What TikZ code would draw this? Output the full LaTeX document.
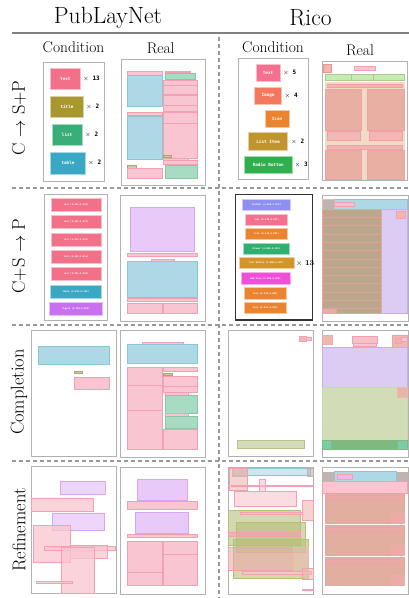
\documentclass[tikz,border=0pt]{standalone}
\usepackage{fontspec}
\newfontfamily\cmono{DejaVu Sans Mono}
\usetikzlibrary{calc}
\definecolor{pinkF}{HTML}{F9C5D0}\definecolor{pinkD}{HTML}{F4A0B3}
\definecolor{blueF}{HTML}{ADD8E6}\definecolor{blueD}{HTML}{88C6D8}
\definecolor{greenF}{HTML}{A8DCC2}\definecolor{greenD}{HTML}{86C8A6}
\definecolor{olivF}{HTML}{D6CA96}
\definecolor{purpF}{HTML}{E8C9F8}\definecolor{purpD}{HTML}{D6A6F0}
\definecolor{redF}{HTML}{E8AFA2}\definecolor{redD}{HTML}{F2A0A8}
\definecolor{beigeF}{HTML}{F0DCC6}
\definecolor{lavF}{HTML}{DCCCF4}\definecolor{lavD}{HTML}{C6AEE6}
\definecolor{rgreenF}{HTML}{D2DDB8}\definecolor{rgreenD}{HTML}{B4C68C}
\definecolor{brownF}{HTML}{BCA68C}
\definecolor{greyF}{HTML}{C0B4B0}
\definecolor{salF}{HTML}{EEB8AE}
\definecolor{olivR}{HTML}{B8BE78}
\definecolor{tealF}{HTML}{7CCCA6}\definecolor{tealD}{HTML}{7EBA80}
\definecolor{cText}{HTML}{F27088}\definecolor{cTitle}{HTML}{A8962E}
\definecolor{cList}{HTML}{3AAE78}\definecolor{cTable}{HTML}{3AA8C4}
\definecolor{cFig}{HTML}{C870F0}
\definecolor{rText}{HTML}{F57090}\definecolor{rImage}{HTML}{F4785E}
\definecolor{rIcon}{HTML}{EA8430}\definecolor{rList}{HTML}{C0952E}
\definecolor{rRadio}{HTML}{30B04C}\definecolor{rTool}{HTML}{8F8FF0}
\definecolor{rDrawer}{HTML}{30B070}\definecolor{rTB}{HTML}{D49428}
\definecolor{rWeb}{HTML}{F050D8}
\newcommand\bx[3]{\draw[#1] (#2) rectangle (#3);}
\newcommand\citem[8]{\filldraw[fill=#6,draw=#6!45!white,line width=0.6] (#2,#3) rectangle (#4,#5);
  \node[ctext,#8] (#1) at ($(#2,#3)!0.5!(#4,#5)$) {#7};}
\tikzset{
  pk/.style={fill=pinkF,draw=pinkD,line width=0.6},
  bl/.style={fill=blueF,draw=blueD,line width=0.6},
  gr/.style={fill=greenF,draw=greenD,line width=0.6},
  ol/.style={fill=olivF,draw=olivF!80!black,line width=0.3},
  pu/.style={fill=purpF,draw=purpD,line width=0.6},
  rd/.style={fill=redF,draw=redD,line width=0.6},
  frame/.style={draw=black!30,line width=0.8},
  sep/.style={draw=black!40,line width=1.4,dash pattern=on 4pt off 3pt},
  ctext/.style={text=white,inner sep=0,font=\cmono\bfseries\fontsize{4.3}{5}\selectfont},
  tiny/.style={font=\cmono\bfseries\fontsize{2.3}{3}\selectfont},
  mult/.style={anchor=west,inner sep=0,font=\cmono\bfseries\fontsize{6}{6}\selectfont},
  hdr/.style={font=\fontsize{23.5}{26}\selectfont},
  sub/.style={font=\fontsize{15.5}{17}\selectfont},
  rowl/.style={rotate=90,font=\fontsize{18.5}{20}\selectfont},
}
\begin{document}
\begin{tikzpicture}[x=1pt,y=-1pt]
\useasboundingbox[fill=white] (0,0) rectangle (409,598);
% headers
\node[hdr] (h1) at (108,18) {PubLayNet};
\node[hdr] (h2) at (310.5,18) {Rico};
\draw[black!50,line width=1.5] (12,33) -- (409,33);
\node[sub] (s1) at (73.5,47) {Condition};
\node[sub] (s2) at (160.7,48.5) {Real};
\node[sub] (s3) at (273,47) {Condition};
\node[sub] (s4) at (360,50.5) {Real};
% separators
\draw[sep] (219,37) -- (219,598);
\draw[sep] (12,188) -- (409,188);
\draw[sep] (12,325) -- (409,325);
\draw[sep] (12,461) -- (409,461);
% row labels
\node[rowl] (r1) at (19,118) {C $\rightarrow$ S+P};
\node[rowl] (r2) at (19,256) {C+S $\rightarrow$ P};
\node[rowl] (r3) at (19,392) {Completion};
\node[rowl] (r4) at (19,530) {Refinement};

%% ROW 1 PubLayNet
\bx{frame}{43,62}{104,181}
\citem{a1}{50.7}{68.3}{80}{89.3}{cText}{text}{}
\node[mult] (m1) at (83,79) {$\times$ 13};
\citem{a2}{50.7}{96}{83.3}{117.3}{cTitle}{title}{}
\node[mult] (m2) at (86,106.7) {$\times$ 2};
\citem{a3}{52.3}{124}{82}{145.7}{cList}{list}{}
\node[mult] (m3) at (85,134.8) {$\times$ 2};
\citem{a4}{50.7}{152}{85.3}{174}{cTable}{table}{}
\node[mult] (m4) at (88,163) {$\times$ 2};
\bx{frame}{121,59}{205,185}
\bx{pk}{127.3,71}{162,75}
\bx{bl}{127.3,75.5}{162,106}
\bx{pk}{165.7,71}{190,72.7}
\bx{gr}{165.7,73.3}{195.7,79}
\bx{pk}{163.3,80}{197.7,94.3}
\draw[pinkD,line width=0.8] (163.3,85) -- (197.7,85);
\bx{pk}{163.3,95.7}{197.7,111}
\draw[pinkD,line width=0.8] (163.3,105.7) -- (197.7,105.7);
\bx{pk}{127.3,112}{162,115.3}
\bx{bl}{127.3,116}{162,159.3}
\bx{pk}{163.3,112}{197.7,123.3}
\bx{pk}{163.3,123.3}{197.7,158.3}
\bx{ol}{163.3,155}{170.7,157.3}
\bx{pk}{163.3,158.5}{188,160.7}
\bx{pk}{163.3,160.7}{197.7,164.3}
\bx{ol}{127.3,165.3}{135.7,167.7}
\bx{pk}{127.3,168.7}{162,178}
\bx{gr}{165.3,165.3}{197.7,178}

%% ROW 1 Rico
\bx{frame}{238.3,58.3}{308.3,179.3}
\citem{b1}{256}{64}{280}{81.7}{rText}{Text}{}
\node[mult] (n1) at (283,72.8) {$\times$ 5};
\citem{b2}{254.3}{87.3}{281.7}{104}{rImage}{Image}{}
\node[mult] (n2) at (284.5,95.6) {$\times$ 4};
\citem{b3}{265}{110}{289}{127.3}{rIcon}{Icon}{}
\citem{b4}{248.3}{132.7}{287.7}{150}{rList}{List Item}{}
\node[mult] (n4) at (291,141.3) {$\times$ 2};
\citem{b5}{244.3}{156}{292.3}{173.3}{rRadio}{Radio Button}{}
\node[mult] (n5) at (294.5,164.7) {$\times$ 3};
\bx{frame}{322.3,61}{407.3,180}
\bx{fill=salF,draw=salF!80!red,line width=0.5}{323.3,64}{331.7,72.7}
\bx{pk}{354.3,66}{375,70.7}
\bx{fill=rgreenF!80!green!70!white,draw=rgreenD,line width=0.6}{325,74}{351,80}
\bx{fill=rgreenF!80!green!70!white,draw=rgreenD,line width=0.6}{351,74}{373.7,80}
\bx{fill=rgreenF!80!green!70!white,draw=rgreenD,line width=0.6}{373.7,74}{404,80}
\bx{fill=beigeF,draw=beigeF}{325,81.7}{404,179.3}
\bx{fill=redF!70!pinkF,draw=redD,line width=0.6}{327.3,84}{402.7,87.3}
\bx{rd}{325.7,89.3}{361.7,130}
\bx{rd}{367.7,89.3}{404,130}
\bx{fill=redF!60!pinkF,draw=redD,line width=0.6}{327.3,131.5}{360.7,140}
\bx{fill=redF!60!pinkF,draw=redD,line width=0.6}{369,131.5}{402.7,140}
\bx{fill=redF!70!pinkF,draw=redD,line width=0.6}{327.3,145}{402.7,149}
\bx{rd}{325.7,150.7}{361.7,179.3}
\bx{rd}{367.7,150.7}{404,179.3}

%% ROW 2 PubLayNet
\bx{frame}{44.3,194.3}{107.3,320}
\citem{c1}{51}{198.3}{101}{211}{cText}{text (0.405,0.074)}{tiny}
\citem{c2}{51}{215.7}{101}{228.3}{cText}{text (0.402,0.074)}{tiny}
\citem{c3}{51}{233.3}{101}{246}{cText}{text (0.832,0.028)}{tiny}
\citem{c4}{51}{250.7}{101}{263.3}{cText}{text (0.269,0.014)}{tiny}
\citem{c5}{51}{267.7}{101}{280.7}{cText}{text (0.832,0.029)}{tiny}
\citem{c6}{50}{285}{101.7}{298.3}{cTable}{table (0.832,0.294)}{tiny}
\citem{c7}{49}{302.3}{102.7}{315.7}{cFig}{figure (0.766,0.067)}{tiny}
\bx{frame}{120.7,195.7}{205.3,321.7}
\bx{pu}{130.7,207}{194.7,251.7}
\bx{pk}{127.3,253}{197.7,256.7}
\bx{pk}{151,259}{174,261}
\bx{bl}{127.3,261}{197.7,297.7}
\bx{pk}{127.3,298.3}{197.7,301}
\bx{pk}{127.3,303.7}{162,313.3}
\bx{pk}{163.3,303.7}{197.7,313.3}

%% ROW 2 Rico
\bx{draw=black!80,line width=1.5}{235.7,194.3}{312.3,320}
\citem{d1}{242.7}{199.3}{290}{210}{rTool}{Toolbar (1.000,0.076)}{tiny}
\citem{d2}{245.7}{214}{287.3}{225}{rText}{Text (0.238,0.027)}{tiny}
\citem{d3}{245.7}{228.3}{287.3}{239.3}{rIcon}{Icon (0.130,0.091)}{tiny}
\citem{d4}{243.7}{243.3}{289}{254.3}{rDrawer}{Drawer (0.880,0.628)}{tiny}
\citem{d5}{239}{257.7}{294}{268.3}{rTB}{Text Button (0.888,0.007)}{tiny}
\node[mult,font=\fontsize{7.5}{8}\selectfont] (n6) at (296,263) {$\times$ \textbf{13}};
\citem{d6}{241}{272.7}{290.3}{284.3}{rWeb}{Web View (1.000,0.628)}{tiny}
\citem{d7}{244.7}{287.7}{286}{299}{rIcon}{Icon (0.130,0.088)}{tiny}
\citem{d8}{244.7}{302.3}{286}{313.7}{rIcon}{Icon (0.093,0.054)}{tiny}
\bx{frame}{322.3,195.7}{408.3,321.7}
\bx{bl}{322.3,199.3}{407.3,209}
\bx{fill=greyF,draw=salF,line width=0.5}{322.3,199.3}{334.3,209}
\bx{fill=pinkF!80!redF,draw=pinkD,line width=0.6}{334.3,202.3}{354,206.7}
\bx{fill=lavF,draw=lavD,line width=0.6}{381.7,209}{407.3,313.3}
\bx{fill=salF,draw=pinkD,line width=0.6}{396,211}{405,218.3}
\bx{fill=brownF,draw=redD,line width=0.5}{322.3,209}{381.7,313.3}
\foreach \k in {1,...,12} \draw[redD!60!brownF,line width=0.5] (322.3,209+\k*8.3) -- (381.7,209+\k*8.3);
\bx{fill=salF!70!brownF,draw=redD,line width=0.6}{322.3,309}{336,313}

%% ROW 3 PubLayNet
\bx{frame}{31.7,330.7}{116.7,456.7}
\bx{bl}{38.3,346.7}{109,364}
\bx{ol}{74,371}{81.7,373.3}
\bx{pk}{74.3,377.3}{109,389}
\bx{frame}{120.7,330.7}{205.3,457.3}
\bx{pk}{142.3,342}{183.3,344}
\bx{bl}{127.3,344.7}{197.7,363.3}
\bx{pk}{127.3,367.3}{162,449.3}
\draw[pinkD,line width=0.8] (127.3,385.7) -- (162,385.7) (127.3,410.7) -- (162,410.7);
\bx{pk}{163.3,367.3}{197.7,371.7}
\bx{ol}{163.3,372.7}{172,375}
\bx{pk}{163.3,376}{197.7,392.7}
\draw[pinkD,line width=0.8] (163.3,386.7) -- (197.7,386.7);
\bx{pk}{165.7,392.7}{188,395}
\bx{gr}{165.7,395}{197.7,413.3}
\bx{pk}{165.7,413.3}{188,416.3}
\bx{gr}{165.7,416.3}{197.7,428.7}
\bx{pk}{163.3,429.3}{197.7,449.3}

%% ROW 3 Rico
\bx{frame}{228.3,330.7}{313.3,456.7}
\bx{fill=salF,draw=pinkD,line width=0.5}{299,336}{306,341.7}
\bx{fill=pinkF,draw=pinkD,line width=0.5}{306,337.3}{311.7,340.7}
\bx{fill=rgreenF,draw=rgreenD,line width=0.7}{237.7,440}{304,448.7}
\bx{frame}{322.3,330.7}{408.3,457.3}
\bx{fill=salF,draw=pinkD!60!salF,line width=0.5}{322.3,335}{332.3,344.7}
\bx{fill=pinkF!80!redF,draw=pinkD,line width=0.6}{352.3,336}{377.3,343.3}
\bx{pk}{353.3,343.3}{376,346.7}
\bx{fill=salF,draw=pinkD,line width=0.5}{392.7,335}{407.3,347.3}
\bx{fill=salF!80!redF,draw=pinkD,line width=0.5}{395,338}{401,343}
\bx{fill=pinkF,draw=pinkD,line width=0.5}{401,337}{407.3,341}
\bx{fill=lavF,draw=lavD,line width=0.6}{322.3,347.3}{407.3,387.3}
\bx{fill=rgreenF,draw=rgreenD!70!white,line width=0.6}{322.3,387.3}{407.3,440.7}
\bx{fill=salF!85!brownF,draw=salF,line width=0.5}{397,387.3}{407.3,397.3}
\bx{fill=tealF,draw=tealD,line width=0.6}{322.3,440.7}{407.3,449.3}
\bx{fill=tealD,draw=tealD,line width=0.6}{331.7,440.7}{397.7,449.3}

%% ROW 4 PubLayNet
\bx{frame}{31.7,466.7}{116.7,593.3}
\begin{scope}[fill opacity=0.75]
\bx{pu}{60,481}{105,494.3}
\bx{pk}{31.7,498.3}{93.3,511.7}
\bx{pu}{52.3,513.3}{104,530.7}
\bx{pk}{33.3,525}{70,562.3}
\bx{pk}{44,546}{115,550}
\bx{pk}{70.7,545}{107.7,558.3}
\bx{pk}{61,547.7}{94,593.3}
\bx{pk}{36.7,581.7}{72.3,583.7}
\end{scope}
\bx{frame}{120.7,467.7}{205.3,594.3}
\bx{pu}{137.3,479}{187.7,500}
\bx{pk}{127.3,501}{197.7,509.3}
\bx{pu}{135.7,512.3}{188.7,533.3}
\bx{pk}{127.3,534}{197.7,537.7}
\bx{pk}{127.3,541}{162,585}
\draw[pinkD,line width=0.8] (127.3,572.3) -- (162,572.3);
\bx{pk}{163.3,541}{197.7,585}
\draw[pinkD,line width=0.8] (163.3,554.3) -- (197.7,554.3);

%% ROW 4 Rico
\bx{frame}{228.3,467.7}{313.3,594.3}
\begin{scope}[fill opacity=0.6]
\bx{bl}{232.3,468.3}{310,475.7}
\bx{fill=greyF,draw=greyF}{232.3,468.3}{246.7,475.7}
\bx{fill=greyF,draw=greyF}{306.7,468.3}{313.3,475.7}
\bx{fill=salF,draw=pinkD}{229,468.3}{247.3,490.3}
\bx{pk}{231.7,485}{313.3,486.7}
\bx{pk}{259.3,479}{265,491.7}
\bx{pk}{234.3,491.7}{296,506.7}
\bx{fill=salF,draw=pinkD}{302.3,500}{313.3,520}
\bx{fill=olivR,draw=olivR}{228.3,510}{300,545}
\bx{pk}{240,512.7}{302.3,514.3}
\bx{fill=olivR,draw=olivR}{235.7,521.7}{305,552.3}
\bx{fill=redF!50!pinkD,draw=pinkD}{228.3,531.7}{300,535.7}
\bx{fill=olivR,draw=olivR}{233.3,539}{307.7,578.3}
\bx{fill=redF!60!pinkD,draw=pinkD}{228.3,546.7}{293.3,570}
\bx{fill=salF,draw=salF}{293.3,546.7}{307.7,570}
\bx{pk}{242.3,571.7}{311.7,574.3}
\bx{fill=salF,draw=pinkD}{302.3,568.3}{313.3,579}
\bx{pk}{302.3,589}{313.3,590.3}
\end{scope}
\bx{frame}{322.3,467.7}{408.3,594.3}
\bx{bl}{334.3,471.7}{396.7,481.7}
\bx{fill=greyF,draw=greyF}{322.3,471.7}{334.3,481.7}
\bx{fill=greyF,draw=greyF}{396.7,471.7}{407.3,481.7}
\bx{fill=purpF!60!pinkD,draw=pinkD,line width=0.5}{337.3,474.3}{352.7,479}
\bx{pk}{322.3,481.7}{407.3,493.7}
\foreach \ya/\yb in {493.7/523.3, 525/555, 557.7/585.7}{
  \bx{fill=redF!85!brownF,draw=redD,line width=0.6}{325.7,\ya}{404,\yb}
  \bx{fill=redF!70!pinkD,draw=redD,line width=0.5}{327.7,\ya+2}{401.7,\ya+6}
  \bx{fill=redF!80!pinkD,draw=redF,line width=0.5}{391.7,\yb-10}{404,\yb}
}
\end{tikzpicture}
\end{document}
